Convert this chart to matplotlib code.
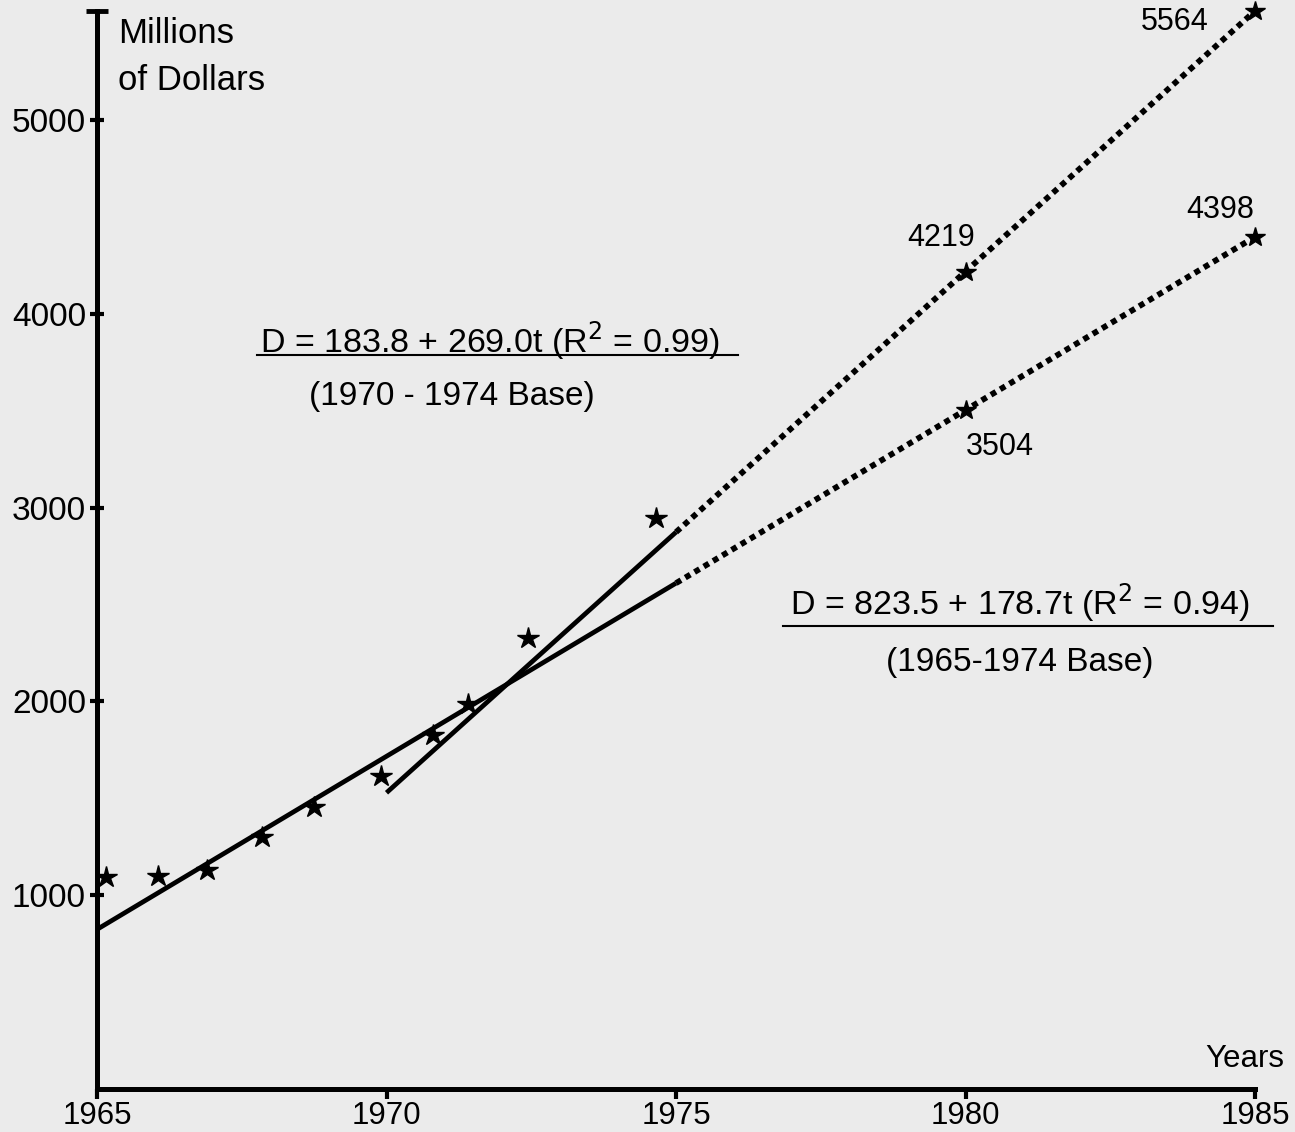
import numpy as np
from matplotlib import pyplot as plt
from matplotlib.lines import Line2D

years = [1965.15, 1966.05, 1966.9, 1967.85, 1968.75, 1969.9, 1970.8, 1971.4, 1972.45, 1974.65]
deposits = [1095, 1100, 1130, 1300, 1455, 1615, 1825, 1985, 2330, 2945]

# regressions, t = years since 1965
fit_a = (183.8, 269.0)   # 1970 - 1974 base
fit_b = (823.5, 178.7)   # 1965 - 1974 base
fit_a_span = (1970, 1975)
fit_b_span = (1965, 1975)
proj_years = [1980, 1985]

x_ticks = [1965, 1970, 1975, 1980, 1985]
y_ticks = [1000, 2000, 3000, 4000, 5000]

W, H = 1295, 1132
BG = '#ebebeb'
FONT = 'Liberation Sans'


def fit(c, yr):
    return c[0] + c[1] * (np.asarray(yr, dtype=float) - 1965)


def px(x, y):
    return x / W, 1 - y / H


def main():
    fig = plt.figure(figsize=(W / 100, H / 100), dpi=100, facecolor=BG)
    ax = fig.add_axes([0, 0, 1, 1])
    ax.set_facecolor('none')
    ax.set_xlim(1963.325, 1985.69)
    ax.set_ylim(-222, 5620)

    for s in ['top', 'right']:
        ax.spines[s].set_visible(False)
    ax.spines['left'].set_position(('data', 1965))
    ax.spines['bottom'].set_position(('data', 0))
    ax.spines['left'].set_bounds(0, 5565)
    ax.spines['bottom'].set_bounds(1965, 1985)
    for s in ['left', 'bottom']:
        ax.spines[s].set_linewidth(3.6)
        ax.spines[s].set_capstyle('projecting')

    ax.set_xticks(x_ticks)
    ax.set_xticklabels([str(v) for v in x_ticks], fontsize=22.5, family=FONT)
    ax.set_yticks(y_ticks)
    ax.set_yticklabels([str(v) for v in y_ticks], fontsize=24, family=FONT)
    ax.tick_params(axis='x', direction='out', length=7, width=3, pad=2)
    ax.tick_params(axis='y', direction='inout', length=10, width=3, pad=3)
    ax.set_yticks([5565], minor=True)
    ax.tick_params(axis='y', which='minor', direction='inout', length=16, width=3.5)

    # solid fitted segments
    xa = np.array(fit_a_span)
    xb = np.array(fit_b_span)
    ax.plot(xa, fit(fit_a, xa), color='black', lw=3.4, solid_capstyle='butt')
    ax.plot(xb, fit(fit_b, xb), color='black', lw=3.4, solid_capstyle='butt')

    # dotted projections
    xp = np.array([fit_a_span[1], proj_years[-1]])
    for c in (fit_a, fit_b):
        ax.plot(xp, fit(c, xp), color='black', lw=4.2, linestyle=(0, (1, 0.85)),
                dash_capstyle='butt')

    ax.plot(years, deposits, linestyle='none', marker='*', ms=16, color='black')
    for c in (fit_a, fit_b):
        ax.plot(proj_years, fit(c, proj_years), linestyle='none', marker='*',
                ms=15, color='black')

    # projected value labels: (x offset, y offset, alignment)
    offsets = {
        (0, 1985): (-46, -19, 'right'),
        (0, 1980): (-24, 26, 'center'),
        (1, 1985): (-35, 19, 'center'),
        (1, 1980): (34, -45, 'center'),
    }
    for i, c in enumerate((fit_a, fit_b)):
        for yr in proj_years:
            v = float(fit(c, yr))
            dx, dy, ha = offsets[(i, yr)]
            ax.annotate('%d' % round(v), (yr, v), xytext=(dx, dy),
                        textcoords='offset pixels', ha=ha, va='baseline',
                        fontsize=22, family=FONT)

    fig.text(*px(118, 43), 'Millions', fontsize=25, family=FONT, va='baseline')
    fig.text(*px(118, 90), 'of Dollars', fontsize=25, family=FONT, va='baseline')
    fig.text(*px(1245, 1067), 'Years', fontsize=22.5, family=FONT, va='baseline', ha='center')

    fig.text(*px(490, 352), 'D = 183.8 + 269.0t (R$^2$ = 0.99)', fontsize=24.5,
             family=FONT, ha='center', va='baseline')
    fig.add_artist(Line2D([257 / W, 738 / W], [1 - 355 / H] * 2, color='black', lw=1.5))
    fig.text(*px(452, 405), '(1970 - 1974 Base)', fontsize=24, family=FONT,
             ha='center', va='baseline')

    fig.text(*px(1020, 615), 'D = 823.5 + 178.7t (R$^2$ = 0.94)', fontsize=24.5,
             family=FONT, ha='center', va='baseline')
    fig.add_artist(Line2D([783 / W, 1273 / W], [1 - 626 / H] * 2, color='black', lw=1.5))
    fig.text(*px(1020, 671), '(1965-1974 Base)', fontsize=24, family=FONT,
             ha='center', va='baseline')

    fig.savefig('out.png', dpi=100, facecolor=BG)


if __name__ == "__main__":
    main()
